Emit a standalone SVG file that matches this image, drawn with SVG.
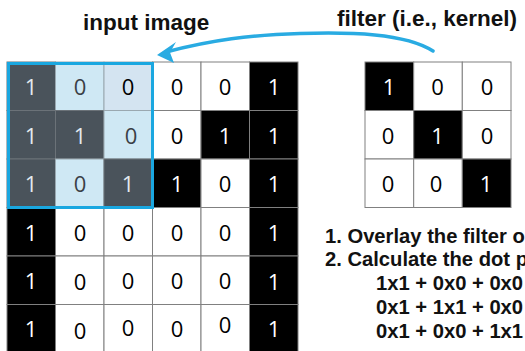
<svg xmlns="http://www.w3.org/2000/svg" width="525" height="351" viewBox="0 0 525 351">
<style>
.w{fill:#ffffff;stroke:#808080;stroke-width:1}
.b{fill:#000000;stroke:#808080;stroke-width:1}
.d{fill:#4a535b;stroke:#6b7278;stroke-width:1}
.l{fill:#cfe8f4;stroke:#9aa8b0;stroke-width:1}
.n{font-family:"Open Sans","Noto Sans",sans-serif;font-size:22px;text-anchor:middle}
.nb{fill:#000}
.nw{fill:#ffffff}
.nd{fill:#e2e9ee}
.nl{fill:#3a4046}
.t{font-family:"Liberation Sans",Arial,sans-serif;font-weight:bold;fill:#111}
</style>
<rect width="525" height="351" fill="#ffffff"/>
<g id="input-image">
<!-- row 0 -->
<rect class="d" x="7" y="62" width="48.5" height="48.5"/>
<rect class="l" x="55.5" y="62" width="48.5" height="48.5"/>
<rect class="l" x="104" y="62" width="48.5" height="48.5" style="fill:#d4e4f1"/>
<rect class="w" x="152.5" y="62" width="48.5" height="48.5"/>
<rect class="w" x="201" y="62" width="48.5" height="48.5"/>
<rect class="b" x="249.5" y="62" width="48.5" height="48.5"/>
<!-- row 1 -->
<rect class="d" x="7" y="110.5" width="48.5" height="48.5"/>
<rect class="d" x="55.5" y="110.5" width="48.5" height="48.5"/>
<rect class="l" x="104" y="110.5" width="48.5" height="48.5"/>
<rect class="w" x="152.5" y="110.5" width="48.5" height="48.5"/>
<rect class="b" x="201" y="110.5" width="48.5" height="48.5"/>
<rect class="b" x="249.5" y="110.5" width="48.5" height="48.5"/>
<!-- row 2 -->
<rect class="d" x="7" y="159" width="48.5" height="48.5"/>
<rect class="l" x="55.5" y="159" width="48.5" height="48.5"/>
<rect class="d" x="104" y="159" width="48.5" height="48.5"/>
<rect class="b" x="152.5" y="159" width="48.5" height="48.5"/>
<rect class="w" x="201" y="159" width="48.5" height="48.5"/>
<rect class="b" x="249.5" y="159" width="48.5" height="48.5"/>
<!-- row 3 -->
<rect class="b" x="7" y="207.5" width="48.5" height="48.5"/>
<rect class="w" x="55.5" y="207.5" width="48.5" height="48.5"/>
<rect class="w" x="104" y="207.5" width="48.5" height="48.5"/>
<rect class="w" x="152.5" y="207.5" width="48.5" height="48.5"/>
<rect class="w" x="201" y="207.5" width="48.5" height="48.5"/>
<rect class="b" x="249.5" y="207.5" width="48.5" height="48.5"/>
<!-- row 4 -->
<rect class="b" x="7" y="256" width="48.5" height="48.5"/>
<rect class="w" x="55.5" y="256" width="48.5" height="48.5"/>
<rect class="w" x="104" y="256" width="48.5" height="48.5"/>
<rect class="w" x="152.5" y="256" width="48.5" height="48.5"/>
<rect class="w" x="201" y="256" width="48.5" height="48.5"/>
<rect class="b" x="249.5" y="256" width="48.5" height="48.5"/>
<!-- row 5 -->
<rect class="b" x="7" y="304.5" width="48.5" height="48.5"/>
<rect class="w" x="55.5" y="304.5" width="48.5" height="48.5"/>
<rect class="w" x="104" y="304.5" width="48.5" height="48.5"/>
<rect class="w" x="152.5" y="304.5" width="48.5" height="48.5"/>
<rect class="w" x="201" y="304.5" width="48.5" height="48.5"/>
<rect class="b" x="249.5" y="304.5" width="48.5" height="48.5"/>
<!-- digits -->
<g class="n">
<text class="nd" x="31" y="95">1</text>
<text class="nl" x="80" y="95">0</text>
<text class="nb" x="128" y="95">0</text>
<text class="nb" x="177" y="95">0</text>
<text class="nb" x="225" y="95">0</text>
<text class="nw" x="274" y="95">1</text>

<text class="nd" x="31" y="143.5">1</text>
<text class="nd" x="80" y="143.5">1</text>
<text class="nl" x="131" y="143.5">0</text>
<text class="nb" x="177" y="143.5">0</text>
<text class="nw" x="225" y="143.5">1</text>
<text class="nw" x="274" y="143.5">1</text>

<text class="nd" x="31" y="192">1</text>
<text class="nl" x="80" y="192">0</text>
<text class="nd" x="128" y="192">1</text>
<text class="nw" x="177" y="192">1</text>
<text class="nb" x="225" y="192">0</text>
<text class="nw" x="274" y="192">1</text>

<text class="nw" x="31" y="240.5">1</text>
<text class="nb" x="80" y="240.5">0</text>
<text class="nb" x="128" y="240.5">0</text>
<text class="nb" x="177" y="240.5">0</text>
<text class="nb" x="225" y="240.5">0</text>
<text class="nw" x="274" y="240.5">1</text>

<text class="nw" x="31" y="289">1</text>
<text class="nb" x="80" y="290">0</text>
<text class="nb" x="128" y="289">0</text>
<text class="nb" x="177" y="289">0</text>
<text class="nb" x="225" y="289">0</text>
<text class="nw" x="274" y="289.5">1</text>

<text class="nw" x="31" y="336.5">1</text>
<text class="nb" x="80" y="339">0</text>
<text class="nb" x="128" y="335.5">0</text>
<text class="nb" x="177" y="336.5">0</text>
<text class="nb" x="225" y="333">0</text>
<text class="nw" x="274" y="336.5">1</text>
</g>
<rect x="8.5" y="63.5" width="144" height="144" fill="none" stroke="#1aa7e0" stroke-width="3"/>
</g>
<g id="filter">
<rect class="b" x="365" y="62" width="48.7" height="48.5"/>
<rect class="w" x="413.7" y="62" width="48.6" height="48.5"/>
<rect class="w" x="462.3" y="62" width="48.7" height="48.5"/>
<rect class="w" x="365" y="110.5" width="48.7" height="48.5"/>
<rect class="b" x="413.7" y="110.5" width="48.6" height="48.5"/>
<rect class="w" x="462.3" y="110.5" width="48.7" height="48.5"/>
<rect class="w" x="365" y="159" width="48.7" height="48.5"/>
<rect class="w" x="413.7" y="159" width="48.6" height="48.5"/>
<rect class="b" x="462.3" y="159" width="48.7" height="48.5"/>
<g class="n">
<text class="nw" x="389" y="95">1</text>
<text class="nb" x="437.5" y="95">0</text>
<text class="nb" x="487" y="95">0</text>
<text class="nb" x="388" y="143.5">0</text>
<text class="nw" x="437.5" y="143.5">1</text>
<text class="nb" x="487" y="143.5">0</text>
<text class="nb" x="388" y="192">0</text>
<text class="nb" x="436" y="192">0</text>
<text class="nw" x="486" y="192">1</text>
</g>
</g>
<g id="labels">
<text class="t" x="83" y="30" font-size="22.5">input image</text>
<text class="t" x="337" y="26" font-size="22.5">filter (i.e., kernel)</text>
</g>
<g id="steps" class="t" font-size="20.2">
<text x="325" y="243">1. Overlay the filter o</text>
<text x="325" y="266">2. Calculate the dot p</text>
<text x="376" y="290">1x1 + 0x0 + 0x0</text>
<text x="376" y="314">0x1 + 1x1 + 0x0</text>
<text x="376" y="338">0x1 + 0x0 + 1x1</text>
</g>
<g id="connectors">
<path d="M433,51 C405,33 350,32 300,33.5 C250,35 212,40 166,52" fill="none" stroke="#29abe2" stroke-width="3.5" stroke-linecap="round"/>
<polygon points="157,55 176,42 170,52.5 174,63" fill="#29abe2"/>
</g>
</svg>
